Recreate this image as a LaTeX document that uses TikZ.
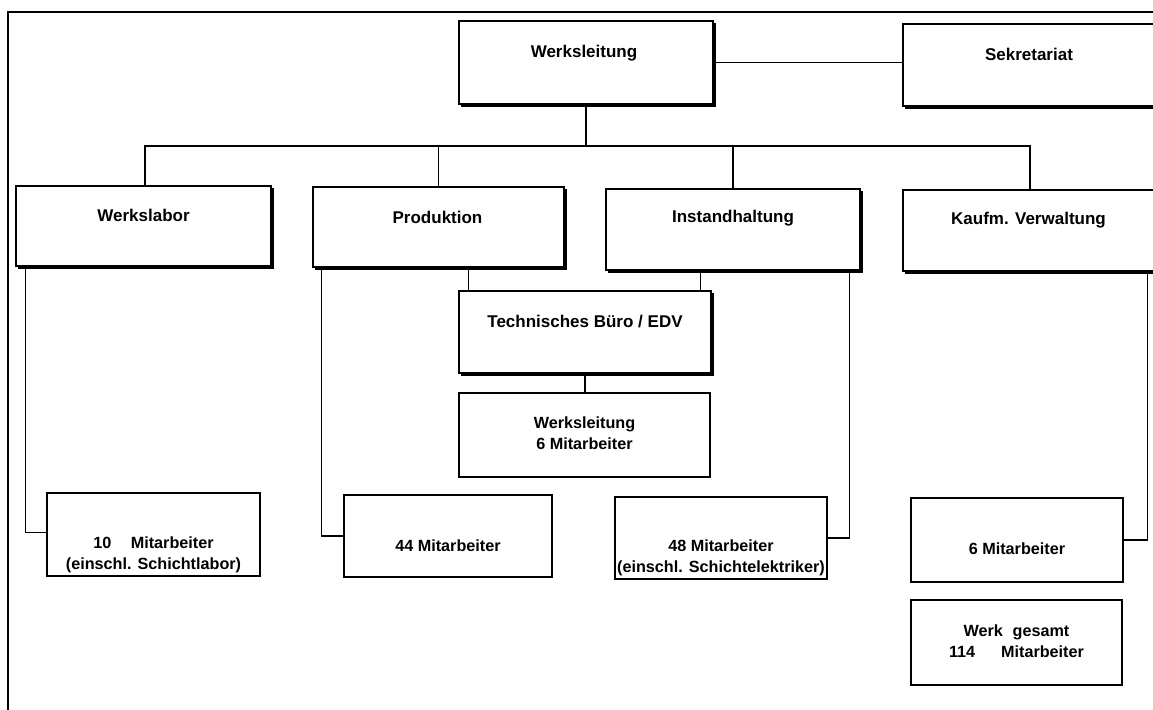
\documentclass[tikz,border=0pt]{standalone}
\usepackage{fontspec}
\setmainfont{Liberation Sans}
\usetikzlibrary{shadows}
\begin{document}
\begin{tikzpicture}[x=1pt,y=-1pt,
  line width=1.1pt,
  plainbox/.style={draw=black,fill=white,rectangle,inner sep=0pt,line width=1.1pt},
  shbox/.style={plainbox,copy shadow={shadow xshift=2.5pt,shadow yshift=-2.5pt,fill=black,draw=black}},
  head/.style={font=\bfseries\fontsize{17}{20}\selectfont,inner sep=0pt},
  low/.style={font=\bfseries\fontsize{16.2}{21}\selectfont,inner sep=0pt,align=center},
  conn/.style={draw=black,line width=1.1pt}]
\useasboundingbox (0,0) rectangle (1153,709);
\fill[white] (0,0) rectangle (1153,709);
\clip (0,0) rectangle (1153,709);
% frame
\draw[line width=1.3pt] (8,712) -- (8,12) -- (1160,12);
% top boxes
\node[shbox,minimum width=254pt,minimum height=83pt] (wl) at (586,62.5) {};
\node[shbox,minimum width=267pt,minimum height=82pt] (sek) at (1036.5,65) {};
\node[shbox,minimum width=255pt,minimum height=80pt] (lab) at (143.5,226) {};
\node[shbox,minimum width=251pt,minimum height=80pt] (prod) at (438.5,227) {};
\node[shbox,minimum width=254pt,minimum height=81pt] (inst) at (733,229.5) {};
\node[shbox,minimum width=267pt,minimum height=81pt] (kv) at (1036.5,230.5) {};
\node[shbox,minimum width=252pt,minimum height=82pt] (tb) at (585,332) {};
% lower boxes
\node[plainbox,minimum width=251pt,minimum height=84pt] (w6) at (584.5,435) {};
\node[plainbox,minimum width=213pt,minimum height=83pt] (m10) at (153.5,534.5) {};
\node[plainbox,minimum width=208pt,minimum height=82pt] (m44) at (448,536) {};
\node[plainbox,minimum width=212pt,minimum height=82pt] (m48) at (721,538) {};
\node[plainbox,minimum width=212pt,minimum height=84pt] (m6) at (1017,540) {};
\node[plainbox,minimum width=211pt,minimum height=85pt] (wg) at (1016.5,642.5) {};
% texts
\node[head] (twl) at (584,53) {Werksleitung};
\node[head] (tsek) at (1029,54) {Sekretariat};
\node[head] (tlab) at (143.5,215) {Werkslabor};
\node[head] (tprod) at (437.5,217) {Produktion};
\node[head] (tinst) at (733,218) {Instandhaltung};
\node[head] (tkv) at (1028.5,220) {Kaufm. Verwaltung};
\node[head] (ttb) at (585,322) {Technisches Büro / EDV};
\node[low] (tw6) at (584.5,433) {Werksleitung\\6 Mitarbeiter};
\node[low] (tm10) at (153.5,554.5) {10\hspace{1.2em}Mitarbeiter\\(einschl. Schichtlabor)};
\node[low] (tm44) at (448,546) {44 Mitarbeiter};
\node[low] (tm48) at (721,557.5) {48 Mitarbeiter\\(einschl. Schichtelektriker)};
\node[low] (tm6) at (1017,549) {6 Mitarbeiter};
\node[low] (twg) at (1016.5,641.5) {Werk\hspace{0.6em}gesamt\\114\hspace{1.6em}Mitarbeiter};
% connectors
\coordinate (busL) at (145,146);
\coordinate (busR) at (1030,146);
\draw[conn] (wl.east) -- (wl.east -| sek.west);
\draw[conn] (wl.south) -- (wl.south |- busL);
\draw[conn] ([xshift=1.5pt]lab.north) -- ([xshift=1.5pt]lab.north |- busL) -- (busR) -- (busR |- kv.north);
\draw[conn] (prod.north) -- (prod.north |- busL);
\draw[conn] (inst.north) -- (inst.north |- busL);
\draw[conn] ([xshift=10pt]tb.north west) -- ([xshift=10pt]tb.north west |- prod.south);
\draw[conn] ([xshift=-11pt]tb.north east) -- ([xshift=-11pt]tb.north east |- inst.south);
\draw[conn] (tb.south) -- (tb.south |- w6.north);
\draw[conn] ([xshift=10pt]lab.south west) |- ([yshift=2pt]m10.west);
\draw[conn] ([xshift=9pt]prod.south west) |- (m44.west);
\draw[conn] ([xshift=-11pt]inst.south east) |- (m48.east);
\draw[conn] ([xshift=-23pt]kv.south east) |- (m6.east);
\end{tikzpicture}
\end{document}
